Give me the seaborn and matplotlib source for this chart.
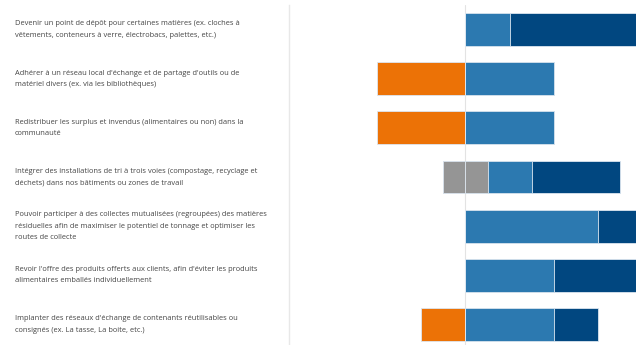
import matplotlib
matplotlib.use("Agg")
import matplotlib.pyplot as plt
import matplotlib.transforms as mtransforms
import pandas as pd
import seaborn as sns

categories = [
    "Devenir un point de dépôt pour certaines matières (ex. cloches à\nvêtements, conteneurs à verre, électrobacs, palettes, etc.)",
    "Adhérer à un réseau local d'échange et de partage d'outils ou de\nmatériel divers (ex. via les bibliothèques)",
    "Redistribuer les surplus et invendus (alimentaires ou non) dans la\ncommunauté",
    "Intégrer des installations de tri à trois voies (compostage, recyclage et\ndéchets) dans nos bâtiments ou zones de travail",
    "Pouvoir participer à des collectes mutualisées (regroupées) des matières\nrésiduelles afin de maximiser le potentiel de tonnage et optimiser les\nroutes de collecte",
    "Revoir l'offre des produits offerts aux clients, afin d'éviter les produits\nalimentaires emballés individuellement",
    "Implanter des réseaux d'échange de contenants réutilisables ou\nconsignés (ex. La tasse, La boite, etc.)",
]
disagree = [0, 2, 2, 0, 0, 0, 1]
neutral = [0, 0, 0, 1, 0, 0, 0]
agree = [1, 2, 2, 1, 3, 2, 2]
strongly_agree = [4, 0, 0, 2, 2, 3, 1]

c_orange = "#EC7206"
c_gray = "#959595"
c_blue = "#2C79B0"
c_dark = "#014780"

df = pd.DataFrame({"cat": categories, "d": disagree, "n": neutral,
                   "a": agree, "s": strongly_agree})
# cumulative ends of each layer (diverging around zero)
df["dark_end"] = df["n"] / 2 + df["a"] + df["s"]
df["blue_end"] = df["n"] / 2 + df["a"]
df["gray_end"] = df["n"] / 2
df["orange_end"] = -(df["n"] / 2 + df["d"])
df["gray_neg"] = -df["n"] / 2

sns.set_style("white")
fig = plt.figure(figsize=(6.36, 3.45), dpi=100)
ax = fig.add_axes([0.4549, -0.0116, 0.554, 0.9971])

layers = [("dark_end", c_dark), ("blue_end", c_blue), ("gray_end", c_gray),
          ("orange_end", c_orange), ("gray_neg", c_gray)]
for col, color in layers:
    sns.barplot(data=df, x=col, y="cat", orient="h", color=color,
                width=0.67, edgecolor="#dce6f0", linewidth=0.6,
                saturation=1, ax=ax)

ax.set_xlim(-4, 4)
ax.set_ylim(6.5, -0.5)
ax.axvline(0, color="#e3e3e3", lw=0.8, zorder=0)
ax.set_xlabel("")
ax.set_ylabel("")
ax.set_xticks([])
ax.set_yticks([])
for s in ["top", "right", "bottom"]:
    ax.spines[s].set_visible(False)
ax.spines["left"].set_color("#e8e8e8")
ax.spines["left"].set_linewidth(1.0)

trans = mtransforms.blended_transform_factory(fig.transFigure, ax.transData)
for i, lab in enumerate(categories):
    ax.text(15 / 636, i, lab, transform=trans, ha="left", va="center",
            fontsize=5.4, color="#454545", linespacing=1.85,
            family=["Open Sans", "DejaVu Sans"], clip_on=False)

fig.savefig("out.png", dpi=100)
